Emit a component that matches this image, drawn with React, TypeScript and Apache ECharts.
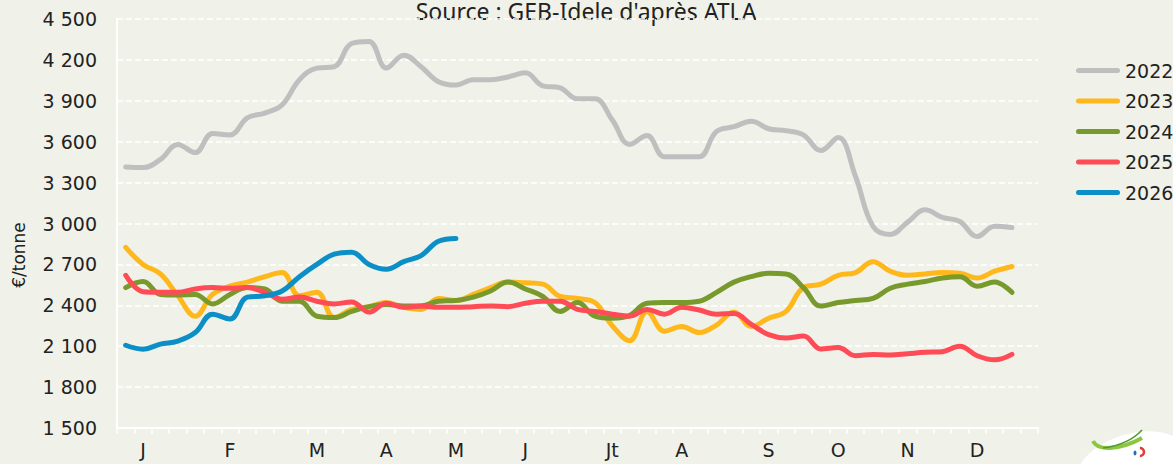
import React, { useEffect, useRef } from "react";
import * as echarts from "echarts";

const weeks: string[] = Array.from({ length: 53 }, (_, i) => `S${i + 1}`);
const monthLabels = ["J", "F", "M", "A", "M", "J", "Jt", "A", "S", "O", "N", "D"];
const monthWeekIndex = [1, 6, 11, 15, 19, 23, 28, 32, 37, 41, 45, 49];

const yMin = 1500;
const yMax = 4500;
const yStep = 300;

const seriesNames = ["2022", "2023", "2024", "2025", "2026"];
const seriesColors = ["#BFBFBF", "#FFB81C", "#789A2C", "#FF4B55", "#0B8FC6"];

const s2022 = [3415, 3410, 3470, 3580, 3520, 3660, 3650, 3775, 3810, 3870, 4055, 4140, 4150, 4320, 4335, 4140, 4235, 4150, 4040, 4015, 4055, 4055, 4075, 4105, 4010, 3995, 3915, 3915, 3760, 3580, 3645, 3490, 3490, 3490, 3675, 3710, 3750, 3695, 3680, 3650, 3535, 3630, 3345, 2980, 2920, 3010, 3100, 3045, 3015, 2905, 2980, 2970];
const s2023 = [2825, 2700, 2630, 2470, 2320, 2480, 2540, 2570, 2610, 2640, 2470, 2495, 2310, 2370, 2390, 2420, 2385, 2370, 2450, 2435, 2480, 2530, 2570, 2565, 2555, 2465, 2450, 2420, 2250, 2140, 2355, 2210, 2245, 2200, 2255, 2350, 2245, 2305, 2355, 2530, 2555, 2620, 2640, 2720, 2650, 2620, 2630, 2640, 2635, 2600, 2650, 2685];
const s2024 = [2530, 2575, 2480, 2475, 2480, 2410, 2480, 2530, 2520, 2430, 2430, 2320, 2310, 2355, 2390, 2405, 2395, 2395, 2430, 2435, 2460, 2505, 2570, 2520, 2465, 2355, 2420, 2320, 2305, 2325, 2415, 2420, 2420, 2430, 2495, 2570, 2610, 2635, 2630, 2530, 2395, 2420, 2435, 2450, 2525, 2555, 2575, 2600, 2610, 2540, 2570, 2495];
const s2025 = [2620, 2500, 2495, 2495, 2520, 2530, 2525, 2530, 2495, 2445, 2460, 2430, 2410, 2425, 2350, 2415, 2385, 2395, 2385, 2385, 2390, 2395, 2390, 2415, 2430, 2430, 2370, 2355, 2335, 2320, 2370, 2335, 2385, 2365, 2335, 2340, 2260, 2185, 2160, 2175, 2080, 2090, 2030, 2040, 2035, 2045, 2055, 2060, 2100, 2030, 2000, 2040];
const s2026 = [2107, 2078, 2115, 2137, 2200, 2335, 2300, 2460, 2470, 2505, 2610, 2700, 2775, 2790, 2700, 2665, 2720, 2765, 2870, 2890];

const seriesData = [s2022, s2023, s2024, s2025, s2026];

const titleText = "Source : GEB-Idele d'après ATLA";
const yAxisTitle = "€/tonne";

const BG = "#F0F1E9";
const FONT = "DejaVu Sans";

function fmt(v: number): string {
  const s = String(Math.round(v));
  return s.replace(/\B(?=(\d{3})+(?!\d))/g, "\u00a0");
}

export default function App() {
  const ref = useRef<HTMLDivElement>(null);

  useEffect(() => {
    if (!ref.current) return;
    const chart = echarts.init(ref.current, null, { renderer: "svg" });
    const labelMap: Record<number, string> = {};
    monthWeekIndex.forEach((w, i) => (labelMap[w] = monthLabels[i]));

    chart.setOption({
      animation: false,
      backgroundColor: BG,
      grid: {
        left: 117,
        right: 135,
        top: 19,
        bottom: 36,
        containLabel: false,
        outerBoundsMode: "none",
      },
      legend: {
        orient: "vertical",
        left: 1071,
        top: 56,
        itemWidth: 44,
        itemHeight: 20,
        itemGap: 11.5,
        icon: "path://M2.5,0 L41.5,0 A2.5,2.5 0 0 1 41.5,5 L2.5,5 A2.5,2.5 0 0 1 2.5,0 Z",
        data: seriesNames,
        textStyle: { fontFamily: FONT, fontSize: 19, color: "#222" },
      },
      xAxis: {
        type: "category",
        data: weeks,
        boundaryGap: true,
        axisLine: { show: true, lineStyle: { color: "#FFFFFF", width: 2 } },
        axisTick: { show: true, interval: 0, length: 6, lineStyle: { color: "#FFFFFF", width: 1.5 } },
        axisLabel: {
          interval: 0,
          margin: 12,
          fontFamily: FONT,
          fontSize: 19,
          color: "#222",
          formatter: (_v: string, idx: number) => labelMap[idx] || "",
        },
        splitLine: { show: false },
      },
      yAxis: {
        type: "value",
        min: yMin,
        max: yMax,
        interval: yStep,
        axisLine: { show: true, lineStyle: { color: "#FFFFFF", width: 2 } },
        axisTick: { show: false },
        axisLabel: {
          margin: 20,
          fontFamily: FONT,
          fontSize: 19,
          color: "#222",
          formatter: (v: number) => fmt(v),
        },
        splitLine: { show: true, lineStyle: { color: "#FFFFFF", width: 1.5, type: [6, 3] } },
      },
      series: seriesNames.map((name, i) => ({
        name,
        type: "line",
        data: seriesData[i],
        smooth: 0.4,
        symbol: "none",
        showSymbol: false,
        lineStyle: { color: seriesColors[i], width: 5, cap: "round", join: "round" },
        itemStyle: { color: seriesColors[i] },
        emphasis: { disabled: true },
      })),
      graphic: [
        {
          type: "text",
          x: 586,
          y: 22,
          style: {
            text: titleText,
            fontFamily: "Noto Sans",
            fontSize: 23,
            fill: "#222",
            align: "center",
            verticalAlign: "bottom",
          },
        },
        {
          type: "text",
          x: 19,
          y: 255,
          rotation: Math.PI / 2,
          style: {
            text: yAxisTitle,
            fontFamily: FONT,
            fontSize: 17,
            fill: "#222",
            align: "center",
            verticalAlign: "middle",
          },
        },
        {
          type: "group",
          children: [
            {
              type: "ellipse",
              x: 1132,
              y: 468,
              rotation: 0.3,
              shape: { cx: 0, cy: 0, rx: 58, ry: 34 },
              style: { fill: "#FFFFFF" },
            },
            {
              type: "bezierCurve",
              shape: { x1: 1093, y1: 441, cpx1: 1098, cpy1: 452, cpx2: 1122, cpy2: 449, x2: 1142, y2: 438 },
              style: { stroke: "#8CC63E", lineWidth: 4, fill: null },
            },
            {
              type: "bezierCurve",
              shape: { x1: 1103, y1: 448, cpx1: 1118, cpy1: 446, cpx2: 1132, cpy2: 441, x2: 1142, y2: 430 },
              style: { stroke: "#4E9A2E", lineWidth: 1.5, fill: null },
            },
            {
              type: "arc",
              shape: { cx: 1140, cy: 452, r: 4, startAngle: -1.6, endAngle: 1.6 },
              style: { stroke: "#E53A3A", lineWidth: 2.5, fill: null },
            },
            {
              type: "ellipse",
              shape: { cx: 1135, cy: 453, rx: 1.5, ry: 2.5 },
              style: { fill: "#2B6CB0" },
            },
          ],
        },
      ],
    });
    return () => chart.dispose();
  }, []);

  return (
    <div
      ref={ref}
      style={{ position: "fixed", left: 0, top: 0, width: 1173, height: 464, background: BG }}
    />
  );
}
